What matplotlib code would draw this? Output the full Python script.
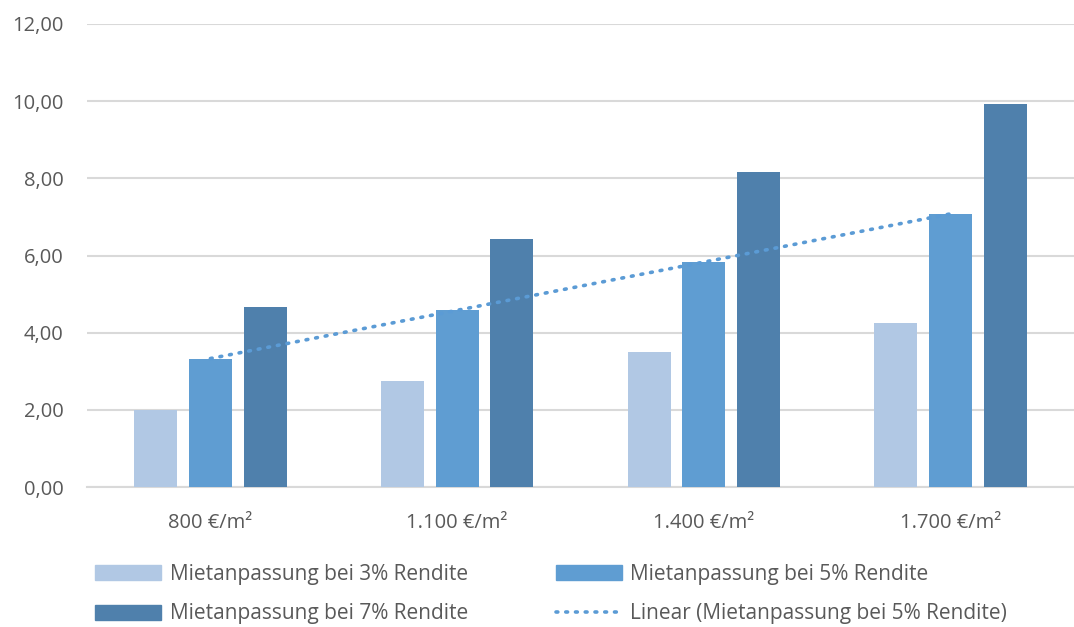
import matplotlib
matplotlib.use("Agg")
import matplotlib.pyplot as plt
import numpy as np
from matplotlib.patches import Patch
from matplotlib.lines import Line2D

categories = ["800 €/m²", "1.100 €/m²", "1.400 €/m²", "1.700 €/m²"]
series_names = ["Mietanpassung bei 3% Rendite", "Mietanpassung bei 5% Rendite", "Mietanpassung bei 7% Rendite"]
rent_3 = [2.00, 2.75, 3.50, 4.25]
rent_5 = [3.33, 4.58, 5.83, 7.08]
rent_7 = [4.67, 6.42, 8.17, 9.92]
trend_label = "Linear (Mietanpassung bei 5% Rendite)"
yticks = [0, 2, 4, 6, 8, 10, 12]

colors = ["#b1c8e4", "#5f9dd2", "#4f80ac"]
trend_color = "#5b9bd5"

plt.rcParams['font.family'] = ['Open Sans', 'DejaVu Sans']

fig = plt.figure(figsize=(10.74, 6.27), dpi=100)
ax = fig.add_axes([87/1074, 1-487/627, 1-87/1074, (487-24)/627])

x = np.arange(len(categories))
w = 0.174
off = 0.222
for i, (vals, c) in enumerate(zip([rent_3, rent_5, rent_7], colors)):
    ax.bar(x + (i-1)*off, vals, width=w, color=c, zorder=3)

# linear trendline of 5% series
coef = np.polyfit(x, rent_5, 1)
xt = np.linspace(0, 3, 100)
ax.plot(xt, np.polyval(coef, xt), color=trend_color, lw=2.6,
        linestyle=(0, (0.5, 2.2)), dash_capstyle='round', zorder=4)

ax.set_xlim(-0.5, 3.5)
ax.set_ylim(0, 12)
ax.set_yticks(yticks)
ax.set_yticklabels([f"{v:.2f}".replace(".", ",") for v in yticks])
ax.set_xticks(x)
ax.set_xticklabels(categories)
ax.grid(axis='y', color='#d9d9d9', lw=1.5, zorder=0)
for s in ['top', 'right', 'left']:
    ax.spines[s].set_visible(False)
ax.spines['bottom'].set_color('#d9d9d9')
ax.spines['bottom'].set_linewidth(1.5)
ax.tick_params(axis='both', length=0, labelsize=14.5, labelcolor='#595959')
ax.tick_params(axis='y', pad=17)
ax.tick_params(axis='x', pad=19)

handles = [Patch(color=colors[0]), Patch(color=colors[2]),
           Patch(color=colors[1]),
           Line2D([0], [0], color=trend_color, lw=2.6, linestyle=(0, (0.5, 2.2)), dash_capstyle='round')]
labels = [series_names[0], series_names[2], series_names[1], trend_label]
leg = fig.legend(handles, labels, ncol=2, loc='upper left',
                 bbox_to_anchor=(76/1074, 1-545/627), frameon=False,
                 fontsize=15, handlelength=3.2, handleheight=0.7,
                 handletextpad=0.4, columnspacing=4.2, labelspacing=0.9,
                 labelcolor='#595959')

fig.savefig("out.png", dpi=100)
